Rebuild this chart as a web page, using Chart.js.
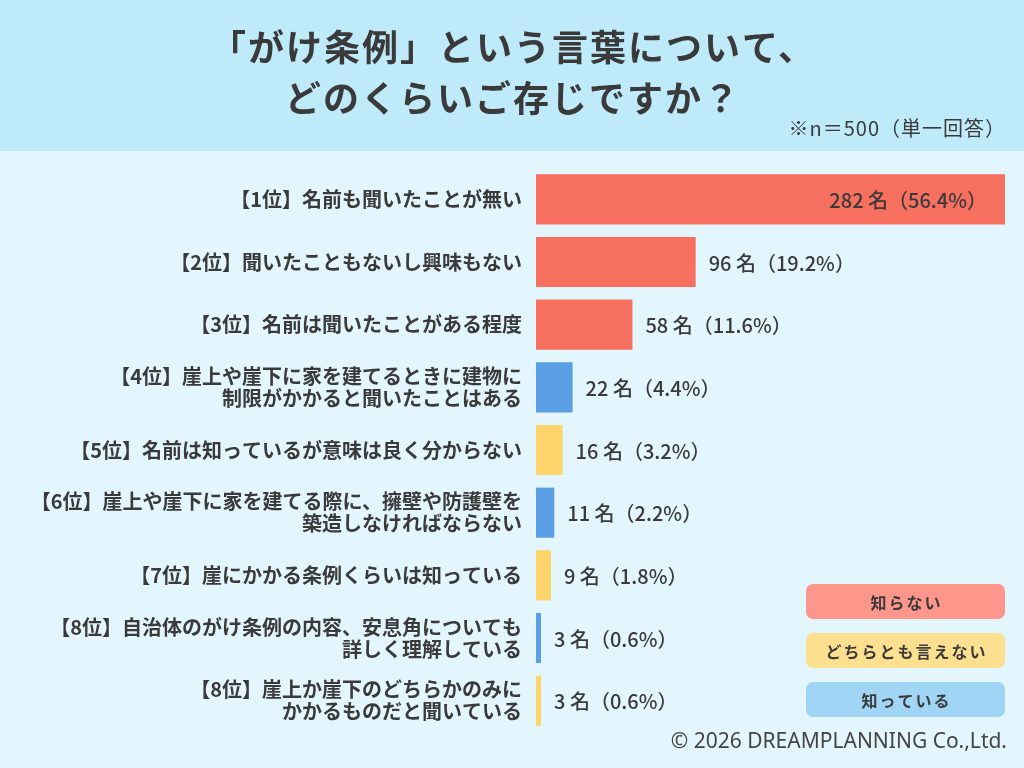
<!DOCTYPE html>
<html lang="ja">
<head>
<meta charset="utf-8">
<title>がけ条例 認知度</title>
<script src="https://cdn.jsdelivr.net/npm/chart.js@4"></script>
<style>
  html, body { margin: 0; padding: 0; background: #e3f6fd; }
  #wrap { width: 1024px; height: 768px; }
</style>
</head>
<body>
<div id="wrap"><canvas id="gakeChart" width="1024" height="768"></canvas></div>
<script>
// ─── Data ─────────────────────────────────────────────────────────────────
const titleLines = ['「がけ条例」という言葉について、', 'どのくらいご存じですか？'];
const sampleNote = '※n＝500（単一回答）';
const copyright  = '© 2026 DREAMPLANNING Co.,Ltd.';

const categories = [
    ['【1位】名前も聞いたことが無い'],
    ['【2位】聞いたこともないし興味もない'],
    ['【3位】名前は聞いたことがある程度'],
    ['【4位】崖上や崖下に家を建てるときに建物に', '制限がかかると聞いたことはある'],
    ['【5位】名前は知っているが意味は良く分からない'],
    ['【6位】崖上や崖下に家を建てる際に、擁壁や防護壁を', '築造しなければならない'],
    ['【7位】崖にかかる条例くらいは知っている'],
    ['【8位】自治体のがけ条例の内容、安息角についても', '詳しく理解している'],
    ['【8位】崖上か崖下のどちらかのみに', 'かかるものだと聞いている']
];
const counts   = [282, 96, 58, 22, 16, 11, 9, 3, 3];
const percents = ['56.4', '19.2', '11.6', '4.4', '3.2', '2.2', '1.8', '0.6', '0.6'];
const groups   = [0, 0, 0, 2, 1, 2, 1, 2, 1];   // 0 知らない / 1 どちらとも / 2 知っている
const groupNames = ['知らない', 'どちらとも言えない', '知っている'];

// ─── Colours ──────────────────────────────────────────────────────────────
const barColors    = ['#f7705f', '#fcd469', '#5a9ee6'];
const legendColors = ['#fd968b', '#fde08f', '#a0d5f6'];
const textColor    = '#3a3a3a';
const jpFont       = "'Noto Sans CJK JP', 'Noto Sans', sans-serif";

// ─── Plugin: backgrounds, title, legend, copyright ────────────────────────
const decorPlugin = {
    id: 'decor',
    beforeDraw(chart) {
        const ctx = chart.ctx;
        ctx.save();
        ctx.fillStyle = '#e3f6fd';
        ctx.fillRect(0, 0, chart.width, chart.height);
        ctx.fillStyle = '#bfeafa';
        ctx.fillRect(0, 0, chart.width, 151);

        ctx.fillStyle = textColor;
        ctx.textAlign = 'center';
        ctx.textBaseline = 'middle';
        ctx.font = `bold 36px ${jpFont}`;
        ctx.letterSpacing = '2px';
        ctx.fillText(titleLines[0], 513, 47);
        ctx.fillText(titleLines[1], 513, 98);

        ctx.textAlign = 'right';
        ctx.font = `20px ${jpFont}`;
        ctx.letterSpacing = '1px';
        ctx.fillText(sampleNote, 1006, 128);
        ctx.letterSpacing = '0px';
        ctx.restore();
    },
    afterDraw(chart) {
        const ctx = chart.ctx;
        const right = chart.chartArea.right;
        ctx.save();
        // legend boxes
        groupNames.forEach((name, i) => {
            const x = 806, y = 584 + i * 49, w = right - 806, h = 35;
            ctx.fillStyle = legendColors[i];
            ctx.beginPath();
            ctx.roundRect(x, y, w, h, 7);
            ctx.fill();
            ctx.fillStyle = textColor;
            ctx.textAlign = 'center';
            ctx.textBaseline = 'middle';
            ctx.font = `bold 16px ${jpFont}`;
            ctx.letterSpacing = '2px';
            ctx.fillText(name, x + w / 2 + 1, y + h / 2 + 1);
            ctx.letterSpacing = '0px';
        });
        // copyright
        ctx.fillStyle = '#444';
        ctx.textAlign = 'right';
        ctx.textBaseline = 'middle';
        ctx.font = `21px 'Noto Sans', sans-serif`;
        ctx.fillText(copyright, right + 2, 742);
        ctx.restore();
    }
};

// ─── Plugin: value labels next to bars ────────────────────────────────────
const valueLabels = {
    id: 'valueLabels',
    afterDatasetsDraw(chart) {
        const ctx = chart.ctx;
        const meta = chart.getDatasetMeta(0);
        ctx.save();
        ctx.fillStyle = textColor;
        ctx.textBaseline = 'middle';
        ctx.font = `500 20px ${jpFont}`;
        meta.data.forEach((bar, i) => {
            const txt = `${counts[i]} 名（${percents[i]}%）`;
            if (i === 0) {
                ctx.textAlign = 'right';
                ctx.fillText(txt, bar.x - 18, bar.y + 1);
            } else {
                ctx.textAlign = 'left';
                ctx.fillText(txt, bar.x + 13, bar.y + 1);
            }
        });
        ctx.restore();
    }
};

// ─── Chart ────────────────────────────────────────────────────────────────
new Chart(document.getElementById('gakeChart'), {
    type: 'bar',
    data: {
        labels: categories,
        datasets: [{
            data: counts,
            backgroundColor: groups.map(g => barColors[g]),
            borderWidth: 0,
            barPercentage: 0.8,
            categoryPercentage: 1.0
        }]
    },
    options: {
        indexAxis: 'y',
        responsive: false,
        devicePixelRatio: 1,
        animation: false,
        layout: { padding: { top: 168, bottom: 36, left: 0, right: 19 } },
        plugins: {
            legend:  { display: false },
            tooltip: { enabled: false }
        },
        scales: {
            x: { display: false, min: 0, max: 282 },
            y: {
                afterFit: s => { s.width = 536; },
                grid:   { display: false, drawTicks: false },
                border: { display: false },
                ticks: {
                    padding: 14,
                    color: textColor,
                    font: { family: jpFont, size: 20, weight: 'bold', lineHeight: 1.1 }
                }
            }
        }
    },
    plugins: [decorPlugin, valueLabels]
});
</script>
</body>
</html>
